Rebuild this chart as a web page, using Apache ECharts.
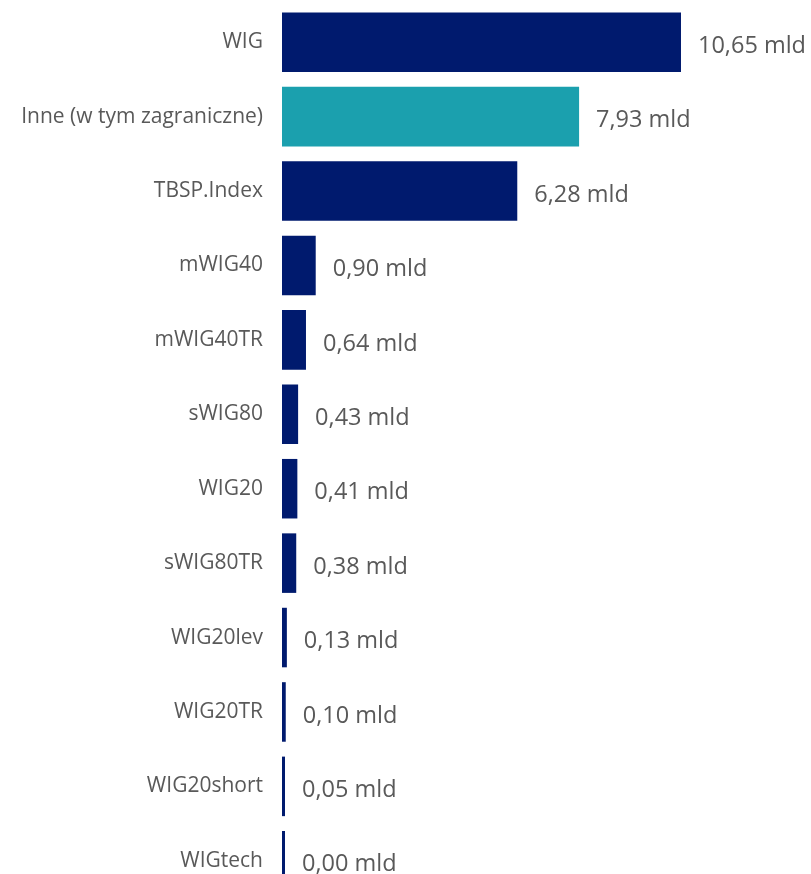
<!DOCTYPE html>
<html><head><meta charset="utf-8">
<script src="https://cdn.jsdelivr.net/npm/echarts@6/dist/echarts.min.js"></script>
<style>html,body{margin:0;padding:0;background:#fff}#c{width:811px;height:874px}</style>
</head><body><div id="c"></div>
<script>
const categories = ["WIG","Inne (w tym zagraniczne)","TBSP.Index","mWIG40","mWIG40TR","sWIG80","WIG20","sWIG80TR","WIG20lev","WIG20TR","WIG20short","WIGtech"];
const values = [10.65,7.93,6.28,0.90,0.64,0.43,0.41,0.38,0.13,0.10,0.05,0.00];
const highlight = "Inne (w tym zagraniczne)";
const navy = "#001A6E", teal = "#1BA0AE";
const chart = echarts.init(document.getElementById('c'));
chart.setOption({
  animation:false,
  grid:{left:282, top:5, width:524.5, height:893, outerBoundsMode:'none', containLabel:false},
  xAxis:{type:'value', min:0, max:14, show:false},
  yAxis:{type:'category', inverse:true, data:categories,
    axisLine:{show:false}, axisTick:{show:false},
    axisLabel:{color:'#595959', fontFamily:'Open Sans', fontSize:21, margin:19}},
  series:[{type:'bar', barCategoryGap:'20%', barMinHeight:3,
    data: values.map((v,i)=>({value:v, itemStyle:{color: categories[i]===highlight?teal:navy}})),
    label:{show:true, position:'right', distance:17, offset:[0,4], color:'#595959', fontFamily:'Open Sans', fontSize:23.5,
      formatter:p=>p.value.toFixed(2).replace('.',',')+' mld'}}]
});
</script></body></html>
